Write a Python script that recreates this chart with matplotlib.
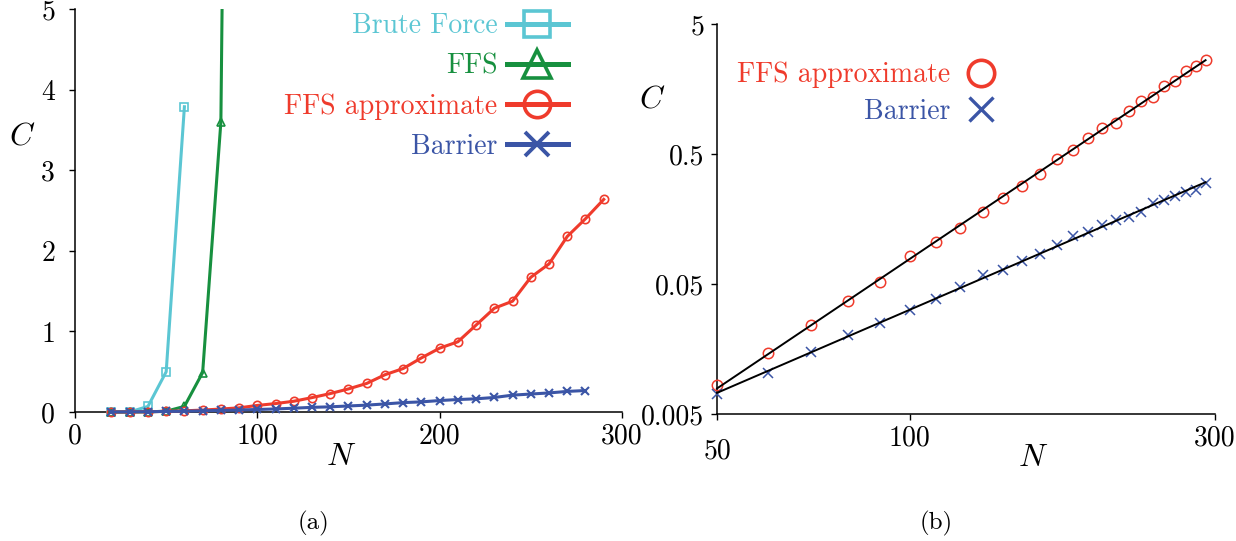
import numpy as np
import matplotlib
matplotlib.use('Agg')
import matplotlib.pyplot as plt
from matplotlib.lines import Line2D
from matplotlib.transforms import Bbox, TransformedBbox

plt.rcParams['font.family'] = 'serif'
plt.rcParams['font.serif'] = ['cmr10']
plt.rcParams['mathtext.fontset'] = 'cm'
plt.rcParams['axes.unicode_minus'] = False
plt.rcParams['axes.formatter.use_mathtext'] = True

# colours
c_bf = '#5bc6d3'
c_ffs = '#17903f'
c_app = '#ef3b2c'
c_bar = '#3b55a6'

# (a) linear panel data
n_bf = [20, 30, 40, 50, 60]
c_bf_vals = [0.0, 0.001, 0.07, 0.5, 3.79]

n_ffs = [20, 30, 40, 50, 60, 70, 80, 90]
c_ffs_vals = [0.0, 0.0, 0.002, 0.01, 0.07, 0.49, 3.6, 25.0]

n_app = [20, 30, 40, 50, 60, 70, 80, 90, 100, 110, 120, 130, 140, 150, 160,
         170, 180, 190, 200, 210, 220, 230, 240, 250, 260, 270, 280, 290]
c_app_vals = [0.0005, 0.0015, 0.004, 0.0083, 0.0148, 0.0244, 0.037, 0.052,
              0.082, 0.105, 0.134, 0.179, 0.229, 0.287, 0.355, 0.463, 0.540,
              0.672, 0.793, 0.872, 1.08, 1.289, 1.376, 1.673, 1.839, 2.18,
              2.40, 2.64]

n_bar = [20, 30, 40, 50, 60, 70, 80, 90, 100, 110, 120, 130, 140, 150, 160,
         170, 180, 190, 200, 210, 220, 230, 240, 250, 260, 270, 280, 290]
c_bar_vals = [0.001, 0.002, 0.004, 0.0071, 0.0103, 0.0150, 0.0201, 0.025,
              0.0317, 0.0381, 0.0474, 0.0583, 0.0645, 0.0752, 0.0857, 0.1005,
              0.117, 0.126, 0.1426, 0.155, 0.164, 0.1806, 0.2095, 0.2235,
              0.237, 0.256, 0.267, 0.3006]

fig = plt.figure(figsize=(12.36, 5.41), dpi=100)
ax1 = fig.add_axes([0.0607, 0.2384, 0.4425, 0.7444])
ax2 = fig.add_axes([0.5801, 0.2348, 0.4029, 0.7202])

tfs = 20
lfs = 20
afs = 23
lw = 2.2
for ax in (ax1, ax2):
    for s in ('top', 'right'):
        ax.spines[s].set_visible(False)
    for s in ('left', 'bottom'):
        ax.spines[s].set_linewidth(1.1)
    ax.tick_params(direction='out', length=4.3, width=1.0, labelsize=tfs)

# ---- panel (a)
ax1.plot(n_bf, c_bf_vals, '-s', color=c_bf, lw=lw, ms=6, mfc='none', mew=1.2,
         clip_on=False, zorder=3)
gl, = ax1.plot(n_ffs, c_ffs_vals, '-^', color=c_ffs, lw=lw, ms=6, mfc='none',
               mew=1.2, zorder=3)
gl.set_clip_box(TransformedBbox(Bbox([[-0.05, -0.05], [1.05, 1.0]]), ax1.transAxes))
ax1.plot(n_app, c_app_vals, '-o', color=c_app, lw=lw, ms=6, mfc='none', mew=1.2,
         clip_on=False, zorder=4)
ax1.plot(n_bar[:-1], c_bar_vals[:-1], '-x', color=c_bar, lw=lw, ms=6, mew=1.5,
         clip_on=False, zorder=5)
ax1.set_xlim(0, 300)
ax1.set_ylim(0, 5)
ax1.set_xticks([0, 100, 200, 300])
ax1.set_xticklabels(['0', '100', '200', '300'])
ax1.set_yticks([0, 1, 2, 3, 4, 5])
ax1.set_yticklabels(['0', '1', '2', '3', '4', '5'])
ax1.tick_params(axis='y', pad=10)
ax1.tick_params(axis='x', pad=4)

h1 = [Line2D([], [], color=c_bf, lw=3.6, marker='s', ms=19, mfc='none', mew=2.6),
      Line2D([], [], color=c_ffs, lw=3.6, marker='^', ms=20, mfc='none', mew=2.6),
      Line2D([], [], color=c_app, lw=3.6, marker='o', ms=19, mfc='none', mew=2.6),
      Line2D([], [], color=c_bar, lw=3.6, marker='x', ms=17, mew=2.8)]
leg1 = ax1.legend(h1, ['Brute Force', 'FFS', 'FFS approximate', 'Barrier'],
                  loc='upper right', bbox_to_anchor=(568 / 1236, 1 - 13 / 541),
                  bbox_transform=fig.transFigure, frameon=False, fontsize=lfs,
                  markerfirst=False, handlelength=2.2, handletextpad=0.35,
                  labelspacing=0.5, borderpad=0, borderaxespad=0,
                  labelcolor='linecolor')
fig.text(22 / 1236, 1 - 137 / 541, r'$C$', fontsize=afs, ha='center', va='center')
fig.text(341 / 1236, 1 - 457 / 541, r'$N$', fontsize=afs, ha='center', va='center')
fig.text(314 / 1236, 1 - 523 / 541, '(a)', fontsize=18, ha='center', va='center')

# ---- panel (b) log-log with power-law fits
n_r = np.array(n_app[3:])
app_r = np.array(c_app_vals[3:])
bar_r = np.array(c_bar_vals[3:])

ax2.set_xscale('log')
ax2.set_yscale('log')
ax2.plot(n_r, app_r, 'o', color=c_app, ms=7.5, mfc='none', mew=1.1, clip_on=False,
         zorder=3)
ax2.plot(n_r, bar_r, 'x', color=c_bar, ms=7.5, mew=1.1, clip_on=False, zorder=3)
nfit = np.array([50, 290])
for yv in (app_r, bar_r):
    p = np.polyfit(np.log(n_r), np.log(yv), 1)
    ax2.plot(nfit, np.exp(np.polyval(p, np.log(nfit))), '-', color='black', lw=1.4,
             clip_on=False, zorder=4)
ax2.set_xlim(50, 300)
ax2.set_ylim(0.005, 5)
ax2.set_xticks([50, 100, 300])
ax2.set_xticklabels(['50', '100', '300'])
ax2.set_yticks([0.005, 0.05, 0.5, 5])
ax2.set_yticklabels(['0.005', '0.05', '0.5', '5'])
ax2.minorticks_off()
ax2.tick_params(axis='y', pad=5)
ax2.tick_params(axis='x', pad=4)
ax2.xaxis.get_major_ticks()[0].set_pad(13)

h2 = [Line2D([], [], ls='none', color=c_app, marker='o', ms=19, mfc='none', mew=2.6),
      Line2D([], [], ls='none', color=c_bar, marker='x', ms=17, mew=2.4)]
leg2 = ax2.legend(h2, ['FFS approximate', 'Barrier'],
                  loc='upper right', bbox_to_anchor=(995 / 1236, 1 - 62 / 541),
                  bbox_transform=fig.transFigure, frameon=False, fontsize=lfs,
                  markerfirst=False, handlelength=1.0, handletextpad=0.6,
                  labelspacing=0.36, borderpad=0, borderaxespad=0,
                  labelcolor='linecolor')
fig.text(652 / 1236, 1 - 100 / 541, r'$C$', fontsize=afs, ha='center', va='center')
fig.text(1033 / 1236, 1 - 458 / 541, r'$N$', fontsize=afs, ha='center', va='center')
fig.text(936 / 1236, 1 - 523 / 541, '(b)', fontsize=18, ha='center', va='center')

fig.savefig('out.png', dpi=100)
